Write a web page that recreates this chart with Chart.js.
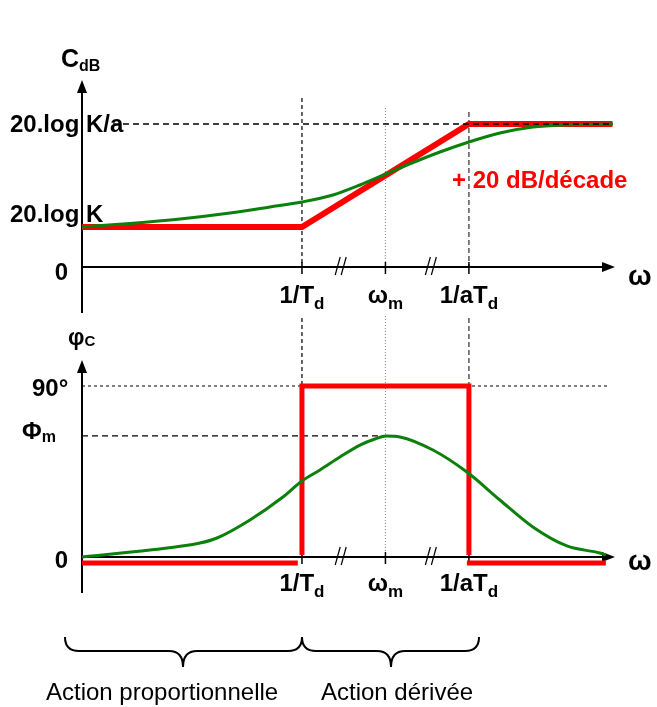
<!DOCTYPE html>
<html><head><meta charset="utf-8">
<script src="https://cdn.jsdelivr.net/npm/chart.js@4.4.1/dist/chart.umd.min.js"></script>
<style>
html,body{margin:0;padding:0;background:#fff;}
#wrap{position:relative;width:657px;height:707px;overflow:hidden;}
canvas{position:absolute;left:0;top:0;}
</style></head><body>
<div id="wrap"><canvas id="mag" width="657" height="707"></canvas><canvas id="phase" width="657" height="707"></canvas></div>
<script>
// ---- data (x in log-frequency units: 1/Td = 0, ωm = 1, 1/aTd = 2) ----
const xMin = -2.635, xMax = 3.75;
const freqPositions = [0, 1, 2];
const freqMain = ['1/T', 'ω', '1/aT'];
const freqSub = ['d', 'm', 'd'];
const breakPositions = [0.47, 1.55];

const magLevels = [0, 10, 35.75];
const magLevelLabels = ['0', '20.log K', '20.log K/a'];
const magAsymX = [-2.635, 0, 2, 3.72];
const magAsymY = [10, 10, 35.75, 35.75];
const magRealX = [-2.635, -2.06, -1.46, -0.862, -0.383, 0, 0.371, 0.695, 1.006, 1.317, 1.653, 2.0, 2.371, 2.766, 3.174, 3.725];
const magRealY = [10, 10.875, 12, 13.5, 15, 16.25, 18, 20.5, 23.25, 26, 28.75, 31.25, 33.5, 35, 35.55, 35.75];

const phaseLevels = [0, 63.7, 90];
const phaseLevelLabels = ['0', 'Φ', '90°'];
const phaseAsymX = [-2.635, -0.05, -0.02, 0, 0, 2, 2, 2, 1.976, 3.64];
const phaseAsymY = [-3.16, -3.16, null, 1, 90, 90, 1, null, -3.16, -3.16];
const phaseRealX = [-2.635, -1.82, -1.222, -1.018, -0.623, -0.228, 0, 0.216, 0.455, 0.695, 0.874, 1.006, 1.174, 1.569, 1.976, 2.371, 2.766, 3.174, 3.569, 3.641];
const phaseRealY = [0, 3.68, 7.37, 10, 19.5, 31.6, 40, 45.8, 52.6, 58.9, 62.1, 63.7, 63.2, 56.3, 44.7, 30, 15.8, 5.8, 2.1, 1.05];

// ---- helpers ----
const FAM = '"Liberation Sans", Arial, Helvetica, sans-serif';
const B24 = 'bold 24px ' + FAM, B16 = 'bold 16px ' + FAM;
const RED = '#ff0000', GREEN = '#0b800b';
const pts = (xs, ys) => xs.map((x, i) => ({x: x, y: ys[i]}));

function txt(ctx, segs, x, y, align, color) {
  ctx.save(); ctx.fillStyle = color || '#000'; ctx.textBaseline = 'alphabetic'; ctx.textAlign = 'left';
  let w = 0; segs.forEach(s => { ctx.font = s.f; s.w = ctx.measureText(s.t).width; w += s.w; });
  let cx = align === 'center' ? x - w / 2 : align === 'right' ? x - w : x;
  segs.forEach(s => { ctx.font = s.f; ctx.fillText(s.t, cx, y + (s.dy || 0)); cx += s.w; });
  ctx.restore();
}
function seg(ctx, x1, y1, x2, y2, color, dash, w) {
  ctx.save(); ctx.strokeStyle = color; ctx.lineWidth = w; ctx.setLineDash(dash || []);
  ctx.beginPath(); ctx.moveTo(x1, y1); ctx.lineTo(x2, y2); ctx.stroke(); ctx.restore();
}
function axes(ctx, area, y0) {
  const L = area.left, R = area.right;
  seg(ctx, L, area.top + 8, L, area.bottom, '#000', [], 2);
  seg(ctx, L, y0, R - 8, y0, '#000', [], 2);
  ctx.save(); ctx.fillStyle = '#000';
  ctx.beginPath(); ctx.moveTo(L, area.top); ctx.lineTo(L - 5, area.top + 13); ctx.lineTo(L + 5, area.top + 13); ctx.closePath(); ctx.fill();
  ctx.beginPath(); ctx.moveTo(R, y0); ctx.lineTo(R - 13, y0 - 5); ctx.lineTo(R - 13, y0 + 5); ctx.closePath(); ctx.fill();
  ctx.restore();
}
function ticksAndBreaks(ctx, xs, y0) {
  freqPositions.forEach(v => { const px = xs.getPixelForValue(v); seg(ctx, px, y0 - 5, px, y0 + 7, '#000', [], 1.5); });
  breakPositions.forEach(v => {
    const px = xs.getPixelForValue(v);
    seg(ctx, px - 6, y0 + 8, px - 1, y0 - 10, '#000', [], 1.2);
    seg(ctx, px, y0 + 8, px + 5, y0 - 10, '#000', [], 1.2);
  });
}
function freqTickLabels(ctx, xs, base) {
  freqPositions.forEach((v, i) => {
    txt(ctx, [{t: freqMain[i], f: B24}, {t: freqSub[i], f: 'bold 17px ' + FAM, dy: 6}], xs.getPixelForValue(v), base, 'center');
  });
}
function brace(ctx, x1, x2, xc, yTop, yMid, yTip) {
  const r = 14;
  ctx.save(); ctx.strokeStyle = '#000'; ctx.lineWidth = 2; ctx.beginPath();
  ctx.moveTo(x1, yTop); ctx.quadraticCurveTo(x1, yMid, x1 + r, yMid);
  ctx.lineTo(xc - r, yMid); ctx.quadraticCurveTo(xc, yMid, xc, yTip);
  ctx.quadraticCurveTo(xc, yMid, xc + r, yMid);
  ctx.lineTo(x2 - r, yMid); ctx.quadraticCurveTo(x2, yMid, x2, yTop);
  ctx.stroke(); ctx.restore();
}

// ---- magnitude chart decorations ----
const magDeco = {
  id: 'magDeco',
  beforeDatasetsDraw(chart) {
    const {ctx, chartArea, scales: {x, y}} = chart;
    const y0 = y.getPixelForValue(0);
    seg(ctx, x.getPixelForValue(0), y.getPixelForValue(42.25), x.getPixelForValue(0), y0, '#000', [4, 3], 1.2);
    seg(ctx, x.getPixelForValue(1), y.getPixelForValue(39.75), x.getPixelForValue(1), y0, '#888', [1, 2], 1);
    seg(ctx, x.getPixelForValue(2), y.getPixelForValue(38.75), x.getPixelForValue(2), y0, '#555', [5, 3], 1.5);
    axes(ctx, chartArea, y0);
    ticksAndBreaks(ctx, x, y0);
  },
  afterDatasetsDraw(chart) {
    const {ctx, scales: {x, y}} = chart;
    const yKa = y.getPixelForValue(magLevels[2]);
    seg(ctx, 113, yKa, x.getPixelForValue(3.72), yKa, '#000', [6, 4], 1.5);
    txt(ctx, [{t: 'C', f: 'bold 25px ' + FAM}, {t: 'dB', f: B16, dy: 4}], 61, 67, 'left');
    txt(ctx, [{t: magLevelLabels[2], f: B24}], 10, y.getPixelForValue(magLevels[2]) + 8, 'left');
    txt(ctx, [{t: magLevelLabels[1], f: B24}], 10, y.getPixelForValue(magLevels[1]) - 5, 'left');
    txt(ctx, [{t: magLevelLabels[0], f: B24}], 68, y.getPixelForValue(magLevels[0]) + 13, 'right');
    freqTickLabels(ctx, x, y.getPixelForValue(0) + 36);
    txt(ctx, [{t: 'ω', f: 'bold 28px ' + FAM}], 628, y.getPixelForValue(0) + 18, 'left');
    txt(ctx, [{t: '+ 20 dB/décade', f: B24}], 452, 188, 'left', RED);
  }
};

// ---- phase chart decorations ----
const phaseDeco = {
  id: 'phaseDeco',
  beforeDatasetsDraw(chart) {
    const {ctx, chartArea, scales: {x, y}} = chart;
    const y0 = y.getPixelForValue(0);
    const yTopRef = 318;
    seg(ctx, x.getPixelForValue(0), yTopRef, x.getPixelForValue(0), y.getPixelForValue(90), '#000', [4, 3], 1.2);
    seg(ctx, x.getPixelForValue(1), 316, x.getPixelForValue(1), y0, '#888', [1, 2], 1);
    seg(ctx, x.getPixelForValue(2), yTopRef, x.getPixelForValue(2), y.getPixelForValue(90), '#555', [5, 3], 1.5);
    const y90 = y.getPixelForValue(phaseLevels[2]);
    seg(ctx, chartArea.left, y90, x.getPixelForValue(3.67), y90, '#000', [3, 3], 1);
    const yPm = y.getPixelForValue(phaseLevels[1]);
    seg(ctx, chartArea.left, yPm, x.getPixelForValue(1), yPm, '#000', [6, 4], 1.3);
    axes(ctx, chartArea, y0);
    ticksAndBreaks(ctx, x, y0);
  },
  afterDatasetsDraw(chart) {
    const {ctx, scales: {x, y}} = chart;
    const y0 = y.getPixelForValue(0);
    txt(ctx, [{t: 'φ', f: 'bold 23px ' + FAM}, {t: 'C', f: 'bold 15px ' + FAM, dy: 1}], 68, 345, 'left');
    txt(ctx, [{t: phaseLevelLabels[2], f: B24}], 32, y.getPixelForValue(phaseLevels[2]) + 10, 'left');
    txt(ctx, [{t: phaseLevelLabels[1], f: B24}, {t: 'm', f: B16, dy: 3}], 22, y.getPixelForValue(phaseLevels[1]) + 3, 'left');
    txt(ctx, [{t: phaseLevelLabels[0], f: B24}], 68, y0 + 11, 'right');
    freqTickLabels(ctx, x, y0 + 34);
    txt(ctx, [{t: 'ω', f: 'bold 28px ' + FAM}], 628, y0 + 13, 'left');
    brace(ctx, 65, 302, 183, 637, 651, 667);
    brace(ctx, 302, 479, 391, 637, 651, 667);
    const F = '24px ' + FAM;
    txt(ctx, [{t: 'Action proportionnelle', f: F}], 46, 700, 'left');
    txt(ctx, [{t: 'Action dérivée', f: F}], 321, 700, 'left');
  }
};

function baseOptions(pad, yMin, yMax) {
  return {
    responsive: false, animation: false, events: [],
    layout: {padding: pad},
    plugins: {legend: {display: false}, tooltip: {enabled: false}},
    scales: {
      x: {type: 'linear', min: xMin, max: xMax, display: false},
      y: {type: 'linear', min: yMin, max: yMax, display: false}
    },
    elements: {point: {radius: 0}}
  };
}

new Chart(document.getElementById('mag'), {
  type: 'line',
  data: {datasets: [
    {data: pts(magRealX, magRealY), borderColor: GREEN, borderWidth: 3, cubicInterpolationMode: 'monotone', clip: false},
    {data: pts(magAsymX, magAsymY), borderColor: RED, borderWidth: 6, borderJoinStyle: 'miter', tension: 0, clip: false}
  ]},
  options: baseOptions({left: 82, right: 42, top: 80, bottom: 394}, -11.5, 46.75),
  plugins: [magDeco]
});

new Chart(document.getElementById('phase'), {
  type: 'line',
  data: {datasets: [
    {data: pts(phaseRealX, phaseRealY), borderColor: GREEN, borderWidth: 3, cubicInterpolationMode: 'monotone', clip: false},
    {data: pts(phaseAsymX, phaseAsymY), borderColor: RED, borderWidth: 5, borderJoinStyle: 'miter', tension: 0, spanGaps: false, clip: false}
  ]},
  options: baseOptions({left: 82, right: 42, top: 360, bottom: 114}, -18.95, 103.68),
  plugins: [phaseDeco]
});
</script>
</body></html>
